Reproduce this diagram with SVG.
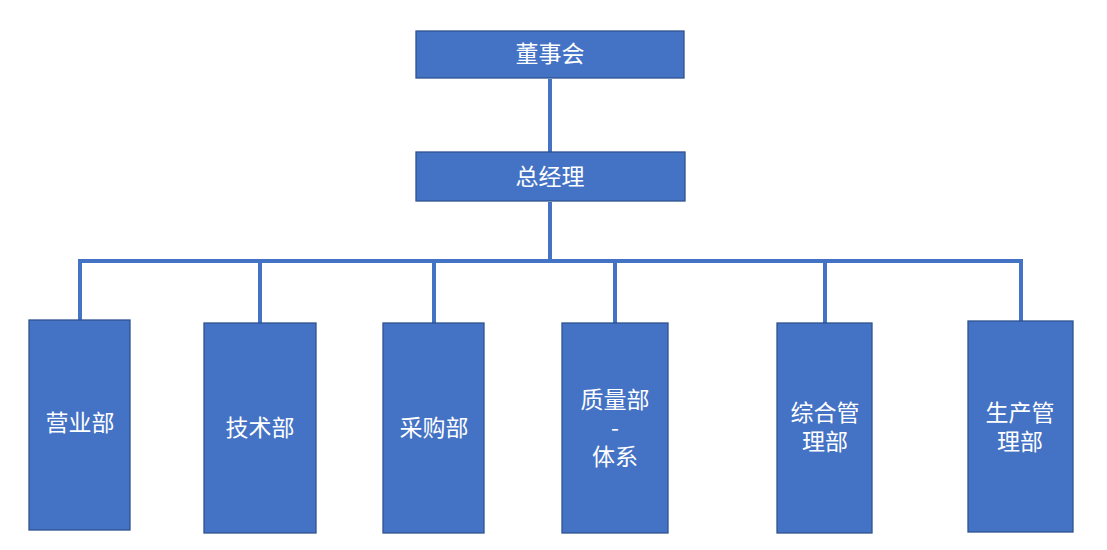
<svg xmlns="http://www.w3.org/2000/svg" width="1107" height="550" viewBox="0 0 1107 550">
<style>
.box{fill:#4472C4;stroke:#2F528F;stroke-width:1.3}
.lbl{fill:#FFFFFF;font-family:"Noto Sans CJK SC","Noto Sans",sans-serif;font-size:23px;text-anchor:middle}
.conn{fill:none;stroke:#4472C4;stroke-width:4}
</style>
<rect width="1107" height="550" fill="#FFFFFF"/>
<g id="connectors">
<line class="conn" x1="550" y1="79" x2="550" y2="152"/>
<line class="conn" x1="550" y1="202" x2="550" y2="261"/>
<polyline class="conn" points="80,320 80,261 1021,261 1021,321"/>
<line class="conn" x1="260" y1="261" x2="260" y2="323"/>
<line class="conn" x1="434" y1="261" x2="434" y2="323"/>
<line class="conn" x1="615" y1="261" x2="615" y2="323"/>
<line class="conn" x1="825" y1="261" x2="825" y2="323"/>
</g>
<g id="board">
<rect class="box" x="416" y="31" width="268" height="47"/>
<text class="lbl" x="550" y="62">董事会</text>
</g>
<g id="gm">
<rect class="box" x="416" y="152" width="269" height="49"/>
<text class="lbl" x="550" y="185">总经理</text>
</g>
<g id="sales">
<rect class="box" x="29" y="320" width="101" height="210"/>
<text class="lbl" x="80" y="431">营业部</text>
</g>
<g id="tech">
<rect class="box" x="204" y="323" width="112" height="210"/>
<text class="lbl" x="260" y="436">技术部</text>
</g>
<g id="purchase">
<rect class="box" x="383" y="323" width="101" height="210"/>
<text class="lbl" x="434" y="436">采购部</text>
</g>
<g id="quality">
<rect class="box" x="562" y="323" width="106" height="210"/>
<text class="lbl" x="615" y="408">质量部<tspan x="615" dy="28">-</tspan><tspan x="615" dy="29">体系</tspan></text>
</g>
<g id="admin">
<rect class="box" x="777" y="323" width="95" height="210"/>
<text class="lbl" x="825" y="421">综合管<tspan x="825" dy="29">理部</tspan></text>
</g>
<g id="production">
<rect class="box" x="968" y="321" width="105" height="211"/>
<text class="lbl" x="1020" y="421">生产管<tspan x="1020" dy="29">理部</tspan></text>
</g>
</svg>
